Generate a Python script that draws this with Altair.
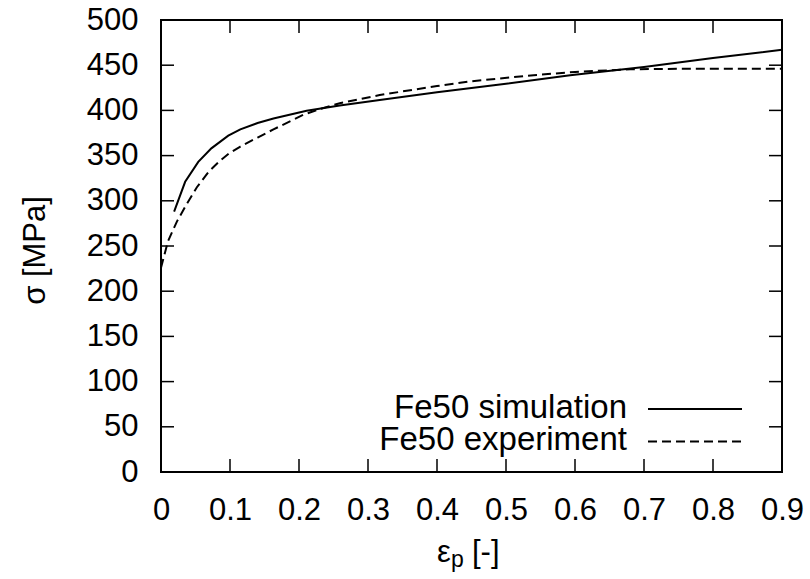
import altair as alt
import pandas as pd

# Flow curves of Fe50: plastic strain vs. true stress
sim_strain = [0.019, 0.035, 0.054, 0.073, 0.0975, 0.115, 0.14, 0.163, 0.211,
              0.259, 0.317, 0.4, 0.5, 0.593, 0.7, 0.8, 0.9]
sim_stress = [288, 321, 343, 358, 372, 379, 386, 391, 399.5,
              405.5, 411.5, 420, 429.5, 439, 448, 458, 467]

exp_strain = [0.0, 0.01, 0.023, 0.037, 0.052, 0.069, 0.085, 0.098, 0.115, 0.14, 0.163,
              0.206, 0.23, 0.259, 0.317, 0.4, 0.448, 0.54, 0.6, 0.68, 0.75, 0.9]
exp_stress = [226, 255, 277, 296, 315, 332, 344, 352, 360, 370, 379,
              395, 401.5, 408, 417, 427, 432, 439, 442.5, 445.5, 446, 446]

x_ticks = [0, 0.1, 0.2, 0.3, 0.4, 0.5, 0.6, 0.7, 0.8, 0.9]
y_ticks = [0, 50, 100, 150, 200, 250, 300, 350, 400, 450, 500]

legend_sim = "Fe50 simulation"
legend_exp = "Fe50 experiment"

FONT = "Liberation Sans"
FS = 31
KEY_FS = 33
W, H = 621, 452

sim = pd.DataFrame({"strain": sim_strain, "stress": sim_stress})
exp = pd.DataFrame({"strain": exp_strain, "stress": exp_stress})
xt = pd.DataFrame({"v": x_ticks})
yt = pd.DataFrame({"v": y_ticks})

x_scale = alt.Scale(domain=[0, 0.9], nice=False, zero=False)
y_scale = alt.Scale(domain=[0, 500], nice=False)

x_axis = alt.Axis(values=x_ticks, format=".1~f", title=None, labelFlush=False,
                  labelPadding=23, grid=False)
y_axis = alt.Axis(values=y_ticks, format="d", title="σ [MPa]", labelFlush=False,
                  labelPadding=23, grid=False,
                  titleX=-126, titleY=230, titleAngle=270, titleAlign="center",
                  titleBaseline="middle")

sim_line = alt.Chart(sim).mark_line(color="black", strokeWidth=2).encode(
    x=alt.X("strain:Q", scale=x_scale, axis=x_axis),
    y=alt.Y("stress:Q", scale=y_scale, axis=y_axis),
)
exp_line = alt.Chart(exp).mark_line(color="black", strokeWidth=2, strokeDash=[9, 5]).encode(
    x=alt.X("strain:Q", scale=x_scale),
    y=alt.Y("stress:Q", scale=y_scale),
)

# inward ticks on all four sides of the frame
TL = 13
tick_b = alt.Chart(xt).mark_rule(color="black", strokeWidth=1.5).encode(
    x=alt.X("v:Q", scale=x_scale), y=alt.value(H), y2=alt.value(H - TL))
tick_t = alt.Chart(xt).mark_rule(color="black", strokeWidth=1.5).encode(
    x=alt.X("v:Q", scale=x_scale), y=alt.value(0), y2=alt.value(TL))
tick_l = alt.Chart(yt).mark_rule(color="black", strokeWidth=1.5).encode(
    y=alt.Y("v:Q", scale=y_scale), x=alt.value(0), x2=alt.value(TL))
tick_r = alt.Chart(yt).mark_rule(color="black", strokeWidth=1.5).encode(
    y=alt.Y("v:Q", scale=y_scale), x=alt.value(W), x2=alt.value(W - TL))

# key in the lower right: label first, then the line sample
one = pd.DataFrame({"k": [0]})
key_sim_text = alt.Chart(one).mark_text(
    font=FONT, fontSize=KEY_FS, align="right", baseline="middle", color="black"
).encode(text=alt.value(legend_sim), x=alt.value(466), y=alt.value(388))
key_exp_text = alt.Chart(one).mark_text(
    font=FONT, fontSize=KEY_FS, align="right", baseline="middle", color="black"
).encode(text=alt.value(legend_exp), x=alt.value(466), y=alt.value(420))
key_sim_line = alt.Chart(one).mark_rule(color="black", strokeWidth=2).encode(
    x=alt.value(487), x2=alt.value(581), y=alt.value(389))
key_exp_line = alt.Chart(one).mark_rule(color="black", strokeWidth=2, strokeDash=[9, 5]).encode(
    x=alt.value(487), x2=alt.value(581), y=alt.value(421.5))

# x-axis title with subscript: ε_p [-]
xt_eps = alt.Chart(one).mark_text(
    font=FONT, fontSize=FS, align="left", baseline="alphabetic", color="black"
).encode(text=alt.value("ε"), x=alt.value(276), y=alt.value(542))
xt_sub = alt.Chart(one).mark_text(
    font=FONT, fontSize=23, align="left", baseline="alphabetic", color="black"
).encode(text=alt.value("p"), x=alt.value(290), y=alt.value(547))
xt_unit = alt.Chart(one).mark_text(
    font=FONT, fontSize=FS, align="left", baseline="alphabetic", color="black"
).encode(text=alt.value("[-]"), x=alt.value(311), y=alt.value(542))

chart = alt.layer(
    sim_line, exp_line, tick_b, tick_t, tick_l, tick_r,
    key_sim_text, key_exp_text, key_sim_line, key_exp_line,
    xt_eps, xt_sub, xt_unit,
).properties(
    width=W, height=H,
    background="white",
    autosize=alt.AutoSizeParams(type="none"),
    padding={"left": 161, "top": 20, "right": 28, "bottom": 107},
).configure_view(
    stroke="black", strokeWidth=2
).configure_axis(
    ticks=False, domain=False, grid=False, tickSize=0,
    labelFont=FONT, labelFontSize=FS, labelColor="black",
    titleFont=FONT, titleFontSize=FS, titleColor="black", titleFontWeight="normal",
)

chart.save("out.html", embed_options={"renderer": "svg", "actions": False})
